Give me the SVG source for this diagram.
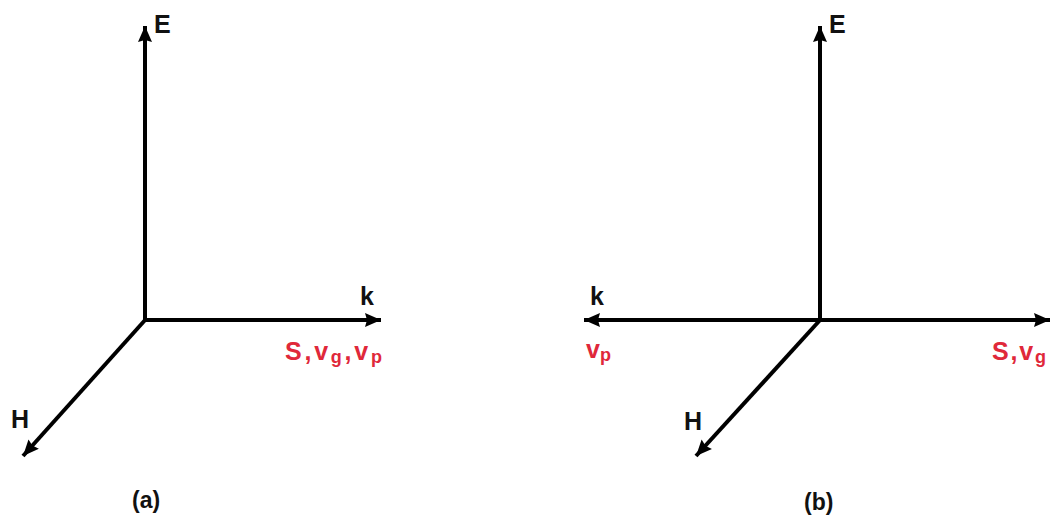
<svg xmlns="http://www.w3.org/2000/svg" width="1050" height="517" viewBox="0 0 1050 517">
<style>
.ax{stroke:#000;stroke-width:4;fill:none;marker-end:url(#ah)}
.lb{font-family:"Liberation Sans",Arial,sans-serif;font-weight:bold;font-size:25px;fill:#111}
.rd{font-family:"Liberation Sans",Arial,sans-serif;font-weight:bold;font-size:25px;fill:#e0283a}
.sb{font-size:18px}
.cap{font-family:"Liberation Sans",Arial,sans-serif;font-weight:bold;font-size:23px;fill:#111}
</style>
<defs>
<marker id="ah" markerUnits="userSpaceOnUse" markerWidth="20" markerHeight="20" refX="16" refY="8" orient="auto">
<path d="M0,1 L16,8 L0,15 L2,8 Z" fill="#000"/>
</marker>
</defs>
<rect width="1050" height="517" fill="#fff"/>
<g id="connectors">
<line class="ax" x1="145" y1="322" x2="145" y2="26"/>
<line class="ax" x1="143" y1="320" x2="381" y2="320"/>
<line class="ax" x1="146" y1="319" x2="23" y2="456"/>
<line class="ax" x1="820" y1="322" x2="820" y2="26"/>
<line class="ax" x1="820" y1="320" x2="1050" y2="320"/>
<line class="ax" x1="822" y1="320" x2="584" y2="320"/>
<line class="ax" x1="821" y1="319" x2="696" y2="456"/>
</g>
<g id="diagram-a">
<text class="lb" x="154" y="33">E</text>
<text class="lb" x="360" y="305">k</text>
<text class="lb" x="11" y="428">H</text>
<text class="rd" x="285" y="360" textLength="97" lengthAdjust="spacing">S,v<tspan class="sb" dy="3">g</tspan><tspan dy="-3">,v</tspan><tspan class="sb" dy="3">p</tspan></text>
<text class="cap" x="132" y="508">(a)</text>
</g>
<g id="diagram-b">
<text class="lb" x="829" y="33">E</text>
<text class="lb" x="590" y="305">k</text>
<text class="lb" x="684" y="430">H</text>
<text class="rd" x="586" y="358">v<tspan class="sb" dy="3">p</tspan></text>
<text class="rd" x="992" y="360" textLength="54" lengthAdjust="spacing">S,v<tspan class="sb" dy="3">g</tspan></text>
<text class="cap" x="804" y="510">(b)</text>
</g>
</svg>
